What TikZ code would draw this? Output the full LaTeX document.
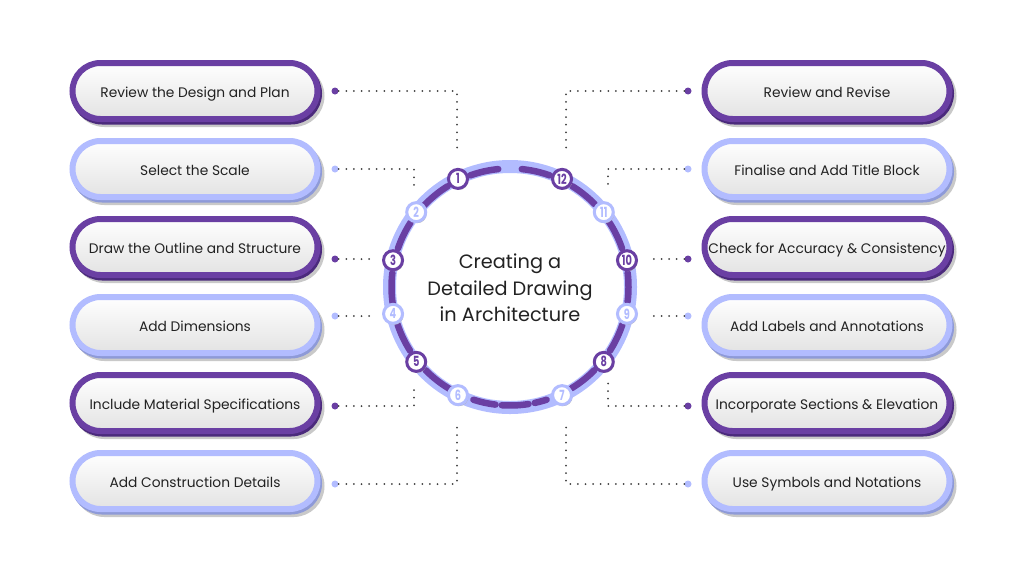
\documentclass[tikz,border=0pt]{standalone}
\usepackage{fontspec}
\setmainfont{Poppins}
\newfontfamily\numfont{Poppins}
\definecolor{purp}{HTML}{6A3FA3}
\definecolor{purpdk}{HTML}{4B2A7C}
\definecolor{lav}{HTML}{B2BCFF}
\definecolor{lavdk}{HTML}{8E9AD8}
\definecolor{shgray}{HTML}{C9C9C9}
\definecolor{txt}{HTML}{222222}
\tikzset{
  pill/.style={rectangle, rounded corners=28pt, minimum width=245pt, minimum height=56pt,
    line width=6pt, draw=#1, top color=white, bottom color=black!11, text=txt,
    font=\fontsize{13.8}{16}\selectfont, inner sep=0pt, text height=13.5pt, text depth=0pt,
    preaction={draw=shgray, fill=shgray, transform canvas={shift={(4pt,-5pt)}}},
    preaction={draw=#1dk, transform canvas={shift={(1.5pt,-2.5pt)}}}},
  badge/.style={circle, minimum size=19pt, inner sep=0pt, line width=3pt, draw=#1, fill=white,
    text=#1, font=\numfont\bfseries\fontsize{14}{14}\selectfont,
    preaction={fill=black!30, transform canvas={shift={(1pt,-1.5pt)}}}},
  enddot/.style={circle, minimum size=7pt, inner sep=0pt, fill=#1},
  conn/.style={draw=black!75, line width=2pt, line cap=round, dash pattern=on 0pt off 7.6pt},
  ringdash/.style={purp, line width=6.5pt, line cap=round},
}
\newcommand{\nm}[1]{\scalebox{0.7}[1]{#1}}
\begin{document}
\begin{tikzpicture}[x=1pt, y=-1pt]
\useasboundingbox (0,0) rectangle (1024,576);
\fill[white] (0,0) rectangle (1024,576);

% boxes left
\node[pill=purp] (L1) at (195,91)  {Review the Design and Plan};
\node[pill=lav]  (L2) at (195,169) {Select the Scale};
\node[pill=purp] (L3) at (195,247) {Draw the Outline and Structure};
\node[pill=lav]  (L4) at (195,325) {Add Dimensions};
\node[pill=purp] (L5) at (195,403) {Include Material Specifications};
\node[pill=lav]  (L6) at (195,481) {Add Construction Details};
% boxes right
\node[pill=purp] (R12) at (827,91)  {Review and Revise};
\node[pill=lav]  (R11) at (827,169) {Finalise and Add Title Block};
\node[pill=purp] (R10) at (827,247) {Check for Accuracy \& Consistency};
\node[pill=lav]  (R9)  at (827,325) {Add Labels and Annotations};
\node[pill=purp] (R8)  at (827,403) {Incorporate Sections \& Elevation};
\node[pill=lav]  (R7)  at (827,481) {Use Symbols and Notations};

% ring
\begin{scope}[shift={(510,287)}, y=1pt]
  \draw[lav, line width=13pt] (0,0) circle (120.5pt);
  \foreach \a/\b in {95.7/109.7, 121.7/137.7, 147.1/161.1, 173.1/188.1,
                     198.6/212.6, 224.6/239.6, 252/263, 266/279, 282/288,
                     301.4/315.4, 327.4/341.4, 352.9/366.9, 18.9/33.9,
                     44.3/58.3, 70.3/84.3}
    \draw[ringdash] (\a:118.5) arc[start angle=\a, end angle=\b, radius=118.5];
  \node[badge=purp] (b1)  at (115.7:120) {\nm{1}};
  \node[badge=lav]  (b2)  at (141.4:120) {\nm{2}};
  \node[badge=purp] (b3)  at (167.1:120) {\nm{3}};
  \node[badge=lav]  (b4)  at (192.9:120) {\nm{4}};
  \node[badge=purp] (b5)  at (218.6:120) {\nm{5}};
  \node[badge=lav]  (b6)  at (244.3:120) {\nm{6}};
  \node[badge=lav]  (b7)  at (295.7:120) {\nm{7}};
  \node[badge=purp] (b8)  at (321.4:120) {\nm{8}};
  \node[badge=lav]  (b9)  at (347.1:120) {\nm{9}};
  \node[badge=purp] (b10) at (12.9:120)  {\nm{10}};
  \node[badge=lav]  (b11) at (38.6:120)  {\nm{11}};
  \node[badge=purp] (b12) at (64.3:120)  {\nm{12}};
\end{scope}

\node[align=center, text=txt, font=\fontsize{19.3}{26.5}\selectfont] (title) at (510,288)
  {Creating a\\Detailed Drawing\\in Architecture};

% connector ends
\node[enddot=purp] (d1) at (335,91) {};
\node[enddot=lav]  (d2) at (335,169) {};
\node[enddot=purp] (d3) at (335,259) {};
\node[enddot=lav]  (d4) at (335,316) {};
\node[enddot=purp] (d5) at (335,406) {};
\node[enddot=lav]  (d6) at (335,484) {};
\node[enddot=purp] (d12) at (688,91) {};
\node[enddot=lav]  (d11) at (688,169) {};
\node[enddot=purp] (d10) at (688,259) {};
\node[enddot=lav]  (d9)  at (688,316) {};
\node[enddot=purp] (d8)  at (688,406) {};
\node[enddot=lav]  (d7)  at (688,484) {};

\coordinate (e1) at (457,152);
\coordinate (e2) at (414,191);
\coordinate (e3) at (370,259);
\coordinate (e4) at (370,316);
\coordinate (e5) at (414,383);
\coordinate (e6) at (457,422);
\coordinate (e12) at (566,152);
\coordinate (e11) at (608,191);
\coordinate (e10) at (653,259);
\coordinate (e9)  at (653,316);
\coordinate (e8)  at (608,383);
\coordinate (e7)  at (566,422);

\foreach \i in {1,2,5,6,7,8,11,12}
  \draw[conn] (d\i) -| (e\i);
\foreach \i in {3,4,9,10}
  \draw[conn] (d\i) -- (e\i);
\end{tikzpicture}
\end{document}
